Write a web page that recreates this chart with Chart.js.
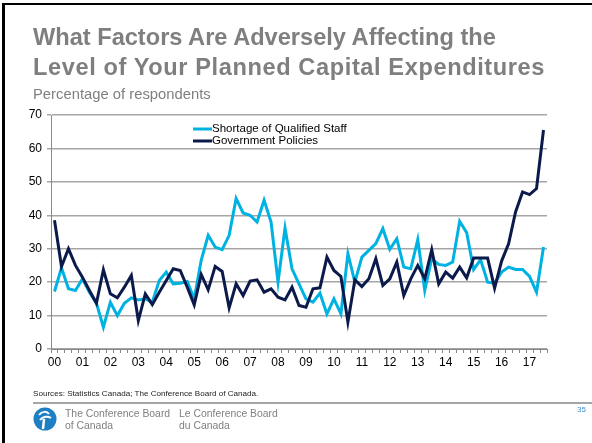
<!DOCTYPE html>
<html>
<head>
<meta charset="utf-8">
<script src="https://cdn.jsdelivr.net/npm/chart.js@4"></script>
<style>
  body { margin: 0; background: #fff; font-family: "Liberation Sans", Arial, sans-serif; }
  #page { position: relative; width: 592px; height: 443px; overflow: hidden; background: #fff; }
  #myChart { position: absolute; left: 0; top: 0; }
  .txt { position: absolute; white-space: nowrap; }
  #title { left: 33px; top: 22px; font-size: 23.6px; line-height: 30px; font-weight: bold; color: #7f7f7f; }
  #title .l2 { letter-spacing: 0.6px; }
  #subtitle { left: 33px; top: 86px; font-size: 14.8px; color: #7f7f7f; }
  #sources { left: 33px; top: 389px; font-size: 8.1px; color: #222; }
  #rule { position: absolute; left: 33px; top: 402px; width: 559px; height: 2px; background: #a6a6a6; }
  .org { top: 408px; font-size: 10.4px; line-height: 12px; color: #808080; }
  #page-num { left: 577px; top: 405px; font-size: 8px; color: #3d8fd0; }
  #bt { position: absolute; left: 2px; top: 3px; width: 590px; height: 2px; background: #000; }
  #bl { position: absolute; left: 2px; top: 3px; width: 3px; height: 440px; background: #000; }
</style>
</head>
<body>
<div id="page">
  <canvas id="myChart" width="592" height="443"></canvas>
  <div id="bt"></div><div id="bl"></div>
  <div class="txt" id="title">What Factors Are Adversely Affecting the<br><span class="l2">Level of Your Planned Capital Expenditures</span></div>
  <div class="txt" id="subtitle">Percentage of respondents</div>
  <div class="txt" id="sources">Sources: Statistics Canada; The Conference Board of Canada.</div>
  <div id="rule"></div>
  <svg style="position:absolute;left:33px;top:407px" width="24" height="24" viewBox="0 0 24 24">
    <circle cx="12" cy="12" r="11.5" fill="#1f7fc4"/>
    <path d="M6 8 C9 4, 14 4, 16 7" stroke="#fff" stroke-width="2" fill="none"/>
    <path d="M7 13 C10 9, 15 9, 18 11" stroke="#fff" stroke-width="2" fill="none"/>
    <path d="M11 12 L10 22" stroke="#fff" stroke-width="2.5" fill="none"/>
  </svg>
  <div class="txt org" style="left:65px">The Conference Board<br>of Canada</div>
  <div class="txt org" style="left:179px">Le Conference Board<br>du Canada</div>
  <div class="txt" id="page-num">35</div>
</div>
<script>
const years = ['00','01','02','03','04','05','06','07','08','09','10','11','12','13','14','15','16','17'];
const shortage = [17.2,24.3,18,17.5,21,17,13.7,6.5,14,10,
                  13.7,15.3,14.7,15,14,20.5,23,19.5,19.7,20.2,
                  15,26.5,34,30.5,29.7,34,45,40.7,40,38,
                  44.5,38,20,36.2,24,19.5,15,14,16.7,10.5,
                  15,10.5,28.5,20,27.5,29.5,31.5,36,29.8,33,
                  24.5,24,32.7,17.5,27,25.3,25,26,38.2,34.8,
                  23.8,26.7,20,19.7,23,24.5,23.8,23.8,21.7,17,
                  30.5];
const policies = [38.5,24.7,30,25,21.5,17.5,13.7,23.7,16.5,15.3,
                  18.5,22,8.5,16.5,13.3,17,20.5,24,23.5,18.5,
                  13.2,22.3,17.7,24.7,23.2,12.3,19.5,16,20.3,20.7,
                  17,18,15.5,14.7,18.5,13,12.5,18,18.3,27.5,
                  23.5,21.7,8,20.7,18.7,21,27,19,21,26,
                  16,21,25,21,29.7,19.5,23,21.2,24.5,21.3,
                  27.2,27.2,27.2,18.2,26.3,31.5,41,47,46.2,48,
                  65.5];
const yTicks = [0, 10, 20, 30, 40, 50, 60, 70];

labels = [];
for (i = 0; i < years.length; i++) {
    for (q = 1; q <= 4; q++) labels.push(years[i] + ' Q' + q);
}
labels = labels.slice(0, shortage.length);

const fontFam = '"Liberation Sans", Arial, sans-serif';

// legend sits inside the plot, like the original
const innerLegend = {
    id: 'innerLegend',
    afterDraw(chart) {
        const c = chart.ctx;
        const x = chart.chartArea.left + 142;
        let y = chart.chartArea.top + 14;
        c.save();
        c.font = '11.5px ' + fontFam;
        c.textBaseline = 'middle';
        chart.data.datasets.forEach(ds => {
            c.strokeStyle = ds.borderColor;
            c.lineWidth = 3;
            c.beginPath();
            c.moveTo(x, y);
            c.lineTo(x + 19, y);
            c.stroke();
            c.fillStyle = '#000';
            c.fillText(ds.label, x + 19, y);
            y += 12;
        });
        c.restore();
    }
};

new Chart(document.getElementById('myChart'), {
    type: 'line',
    data: {
        labels: labels,
        datasets: [
            {
                label: 'Shortage of Qualified Staff',
                data: shortage,
                borderColor: '#00b2e2',
                borderWidth: 3,
                pointRadius: 0,
                order: 1
            },
            {
                label: 'Government Policies',
                data: policies,
                borderColor: '#0b1a4a',
                borderWidth: 3,
                pointRadius: 0,
                order: 0
            }
        ]
    },
    options: {
        responsive: false,
        animation: false,
        devicePixelRatio: 1,
        layout: {
            padding: { left: 0, top: 115, right: 45, bottom: 74 }
        },
        plugins: {
            legend: { display: false },
            tooltip: { enabled: false }
        },
        scales: {
            x: {
                offset: true,
                grid: {
                    drawOnChartArea: false,
                    offset: true,
                    tickLength: 4,
                    color: '#888'
                },
                border: { color: '#888', width: 1 },
                ticks: {
                    autoSkip: false,
                    maxRotation: 0,
                    padding: 2,
                    color: '#000',
                    font: { size: 12, family: fontFam },
                    callback: (v, i) => (i % 4 === 0 ? years[i / 4] : '')
                },
                afterFit: s => { s.height = 20; }
            },
            y: {
                min: yTicks[0],
                max: yTicks[yTicks.length - 1],
                afterBuildTicks: s => { s.ticks = yTicks.map(v => ({ value: v })); },
                grid: {
                    color: '#a6a6a6',
                    lineWidth: 1.5,
                    tickLength: 4
                },
                border: { color: '#888', width: 1 },
                ticks: {
                    padding: 5,
                    color: '#000',
                    font: { size: 12, family: fontFam }
                },
                afterFit: s => { s.width = 51; }
            }
        }
    },
    plugins: [innerLegend]
});
</script>
</body>
</html>
